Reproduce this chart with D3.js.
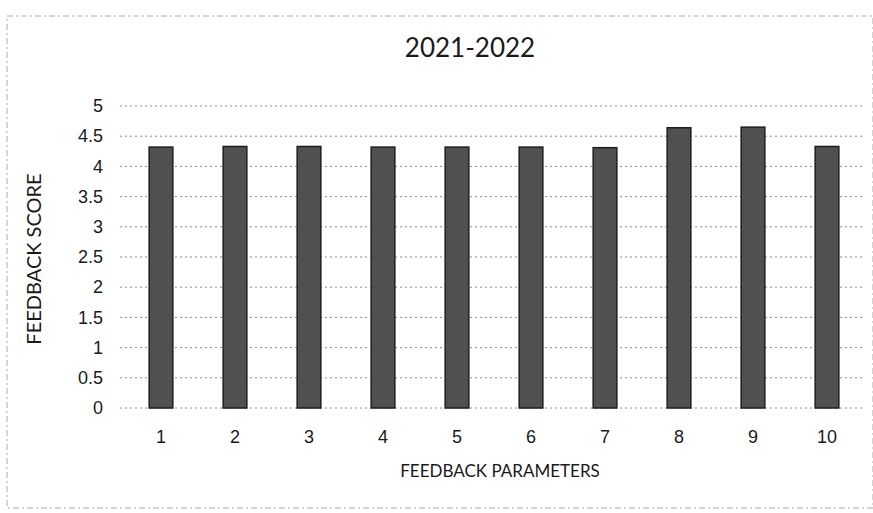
<!DOCTYPE html>
<html lang="en">
<head>
    <meta charset="UTF-8">
    <title>2021-2022 Feedback</title>
    <script src="https://d3js.org/d3.v7.min.js"></script>
    <style>
        body { margin: 0; padding: 0; background: #fff; }
        svg { display: block; font-family: Lato, "Open Sans", sans-serif; }
    </style>
</head>
<body>
    <svg id="chart"></svg>
    <script>
        const width = 873, height = 513;
        const margin = { top: 106, right: 9, bottom: 105, left: 124 };

        // feedback parameters and their scores
        const parameters = ["1", "2", "3", "4", "5", "6", "7", "8", "9", "10"];
        const scores = [4.32, 4.33, 4.33, 4.32, 4.32, 4.32, 4.31, 4.64, 4.65, 4.33];
        const yTicks = [0, 0.5, 1, 1.5, 2, 2.5, 3, 3.5, 4, 4.5, 5];

        const data = parameters.map((p, i) => ({ p: p, v: scores[i] }));

        const svg = d3.select("#chart")
            .attr("width", width)
            .attr("height", height);

        // scanned chart frame
        svg.append("rect")
            .attr("x", 7).attr("y", 16)
            .attr("width", 866).attr("height", 492)
            .attr("fill", "none")
            .attr("stroke", "#aaa")
            .attr("stroke-dasharray", "6,3,2,3");

        const x = d3.scaleBand()
            .domain(parameters)
            .range([margin.left, width - margin.right])
            .paddingInner(0.68)
            .paddingOuter(0.34);

        const y = d3.scaleLinear()
            .domain([0, 5])
            .range([height - margin.bottom, margin.top]);

        // gridlines
        svg.append("g")
            .selectAll("line")
            .data(yTicks)
            .enter().append("line")
            .attr("x1", margin.left - 4)
            .attr("x2", width - margin.right)
            .attr("y1", d => y(d))
            .attr("y2", d => y(d))
            .attr("stroke", "#8a8a8a")
            .attr("stroke-width", 1)
            .attr("stroke-dasharray", "2,3");

        // y axis labels
        const yAxis = svg.append("g")
            .attr("transform", `translate(${margin.left - 21},0)`)
            .call(d3.axisLeft(y).tickValues(yTicks).tickSize(0).tickPadding(0).tickFormat(d3.format("")));
        yAxis.select(".domain").remove();
        yAxis.selectAll("text")
            .style("font-size", "18px")
            .style("fill", "#1a1a1a");

        // x axis labels
        const xAxis = svg.append("g")
            .attr("transform", `translate(0,${height - margin.bottom + 18})`)
            .call(d3.axisBottom(x).tickSize(0).tickPadding(4));
        xAxis.select(".domain").remove();
        xAxis.selectAll("text")
            .style("font-size", "18px")
            .style("fill", "#1a1a1a");

        // bars
        svg.append("g")
            .selectAll("rect")
            .data(data)
            .enter().append("rect")
            .attr("x", d => x(d.p))
            .attr("y", d => y(d.v))
            .attr("width", x.bandwidth())
            .attr("height", d => y(0) - y(d.v))
            .attr("fill", "#505050")
            .attr("stroke", "#1e1e1e")
            .attr("stroke-width", 1.5);

        // title
        svg.append("text")
            .attr("x", 470)
            .attr("y", 57)
            .attr("text-anchor", "middle")
            .style("font-size", "26px")
            .style("fill", "#1a1a1a")
            .text("2021-2022");

        // axis titles
        svg.append("text")
            .attr("x", 500)
            .attr("y", 477)
            .attr("text-anchor", "middle")
            .style("font-size", "17px")
            .style("fill", "#1a1a1a")
            .text("FEEDBACK PARAMETERS");

        svg.append("text")
            .attr("transform", "rotate(-90)")
            .attr("x", -259)
            .attr("y", 41)
            .attr("text-anchor", "middle")
            .style("font-size", "20px")
            .style("fill", "#1a1a1a")
            .text("FEEDBACK SCORE");
    </script>
</body>
</html>
